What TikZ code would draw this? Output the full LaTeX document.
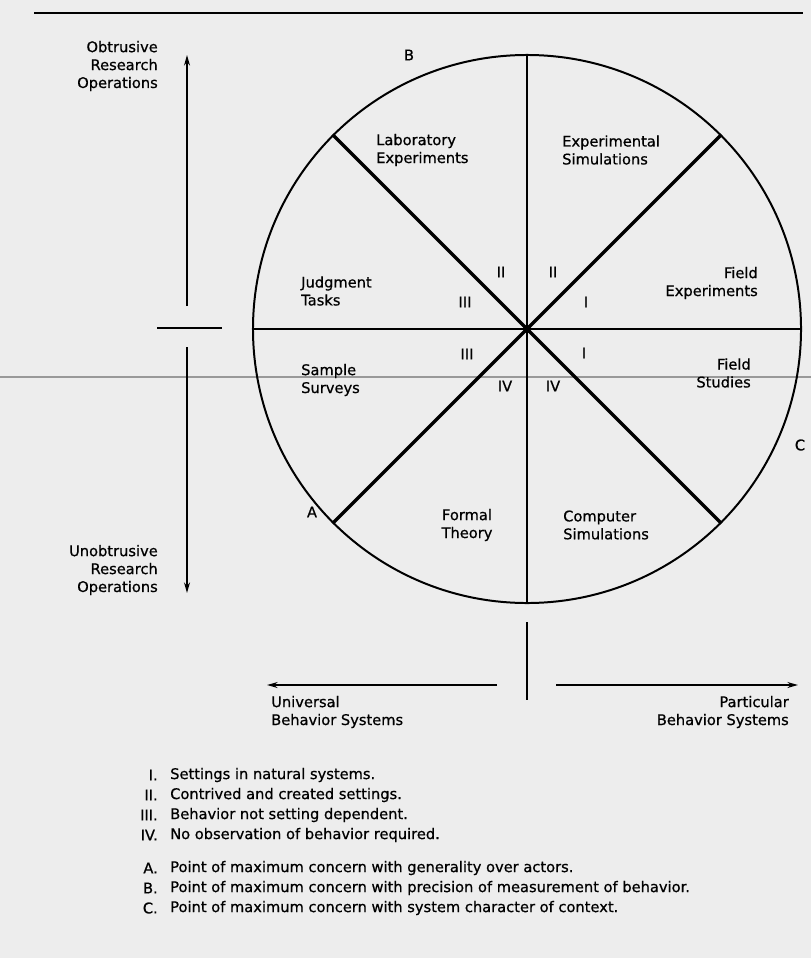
\documentclass[tikz,border=0pt]{standalone}
\usepackage{fontspec}
\setmainfont{DejaVu Sans}[FakeBold=0.7]
\usetikzlibrary{arrows.meta, positioning, calc}

\begin{document}
\begin{tikzpicture}[
    x=0.03cm, y=-0.03cm,
    font=\fontsize{12.5}{15.3}\selectfont,
    >={Stealth[length=9pt, width=5pt]},
    % Line Styles
    axis/.style={line width=1.6pt},
    rim/.style={line width=1.7pt},
    diag/.style={line width=3pt},
    % Node Styles
    sector/.style={align=left, inner sep=0pt, anchor=west},
    sectorR/.style={align=right, inner sep=0pt, anchor=east},
    numeral/.style={inner sep=0pt},
    corner/.style={inner sep=0pt},
    legendKey/.style={anchor=east, inner sep=0pt},
    legendText/.style={anchor=west, inner sep=0pt}
]

% paper
\fill[black!7] (0,0) rectangle (811,958);
\useasboundingbox (0,0) rectangle (811,958);

% =========================================================
% TOP RULE
% =========================================================
\coordinate (ruleW) at (34,13);
\coordinate (ruleE) at (803,13);
\draw[line width=2pt] (ruleW) -- (ruleE);

% scan streak
\coordinate (streakW) at (0,377);
\coordinate (streakE) at (811,377);
\draw[black!40, line width=1.5pt] (streakW) -- (streakE);

% =========================================================
% CIRCLE
% =========================================================
\node[circle, draw, rim, minimum size=16.44cm, inner sep=0pt] (wheel) at (527,329) {};

\draw[axis] (wheel.north) -- (wheel.south);
\draw[axis] (wheel.west) -- (wheel.east);
\draw[diag] (wheel.135) -- (wheel.-45);
\draw[diag] (wheel.-135) -- (wheel.45);
\node[circle, fill, inner sep=0pt, minimum size=0.25cm] (hub) at (wheel.center) {};

% Sector labels
\node[sector] (labExp) at (376,150) {Laboratory\\Experiments};
\node[sector] (expSim) at (562,150) {Experimental\\Simulations};
\node[sector] (judgTasks) at (301,291) {Judgment\\Tasks};
\node[sectorR] (fieldExp) at (758,283) {Field\\Experiments};
\node[sector] (sampleSurv) at (301,380) {Sample\\Surveys};
\node[sectorR] (fieldStud) at (751,373) {Field\\Studies};
\node[align=center, inner sep=0pt] (formalTh) at (467,525) {Formal\\Theory};
\node[sector] (compSim) at (563,525) {Computer\\Simulations};

% Roman numerals
\node[numeral] (twoL) at (501,272) {II};
\node[numeral] (twoR) at (553,272) {II};
\node[numeral] (threeU) at (465,302) {III};
\node[numeral] (oneU) at (586,302) {I};
\node[numeral] (threeD) at (467,354) {III};
\node[numeral] (oneD) at (584,353) {I};
\node[numeral] (fourL) at (505,386) {IV};
\node[numeral] (fourR) at (553,386) {IV};

% Corner points
\node[corner] (ptA) at (312,512) {A};
\node[corner] (ptB) at (409,55) {B};
\node[corner] (ptC) at (800,445) {C};

% =========================================================
% LEFT AXIS
% =========================================================
\coordinate (obtTip) at (187,55);
\coordinate (obtFoot) at (187,306);
\coordinate (unobHead) at (187,347);
\coordinate (unobTip) at (187,593);
\coordinate (tickW) at (157,328);
\coordinate (tickE) at (222,328);

\draw[->, axis] (obtFoot) -- (obtTip);
\draw[->, axis] (unobHead) -- (unobTip);
\draw[axis] (tickW) -- (tickE);

\node[sectorR] (obtLabel) at (158,66) {Obtrusive\\Research\\Operations};
\node[sectorR] (unobLabel) at (158,570) {Unobtrusive\\Research\\Operations};

% =========================================================
% BOTTOM AXIS
% =========================================================
\coordinate (stemTop) at (527,622);
\coordinate (stemBot) at (527,700);
\coordinate (univStart) at (497,685);
\coordinate (univTip) at (267,685);
\coordinate (partStart) at (556,685);
\coordinate (partTip) at (798,685);

\draw[axis] (stemTop) -- (stemBot);
\draw[->, axis] (univStart) -- (univTip);
\draw[->, axis] (partStart) -- (partTip);

\node[sector] (univLabel) at (271,712) {Universal\\Behavior Systems};
\node[sectorR] (partLabel) at (789,712) {Particular\\Behavior Systems};

% =========================================================
% LEGEND
% =========================================================
\foreach \key/\txt [count=\i] in {I./Settings in natural systems.,
    II./Contrived and created settings.,
    III./Behavior not setting dependent.,
    IV./No observation of behavior required.} {
    \node[legendKey] (key\i) at (158,{775+20*(\i-1)}) {\key};
    \node[legendText] (entry\i) at (170,{775+20*(\i-1)}) {\txt};
}
\foreach \key/\txt [count=\i] in {A./Point of maximum concern with generality over actors.,
    B./Point of maximum concern with precision of measurement of behavior.,
    C./Point of maximum concern with system character of context.} {
    \node[legendKey] (ptKey\i) at (158,{868+20*(\i-1)}) {\key};
    \node[legendText] (ptEntry\i) at (170,{868+20*(\i-1)}) {\txt};
}

\end{tikzpicture}
\end{document}
